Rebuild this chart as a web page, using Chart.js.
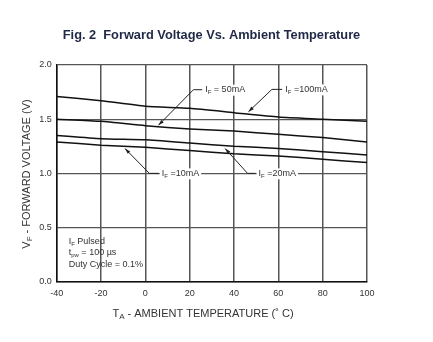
<!DOCTYPE html>
<html>
<head>
<meta charset="utf-8">
<script src="https://cdn.jsdelivr.net/npm/chart.js@4"></script>
<style>
  html, body { margin: 0; padding: 0; background: #fff; }
  #wrap { width: 433px; height: 342px; position: relative; }
</style>
</head>
<body>
<div id="wrap"><canvas id="vfChart" width="433" height="342"></canvas></div>
<script>
// temperatures (deg C) and forward voltage per drive current
const temps = [-40, -20, 0, 20, 40, 60, 80, 100];
const vf100 = [1.71, 1.67, 1.62, 1.60, 1.56, 1.52, 1.50, 1.48];
const vf50 = [1.50, 1.48, 1.44, 1.41, 1.39, 1.36, 1.33, 1.29];
const vf20 = [1.35, 1.32, 1.31, 1.28, 1.25, 1.23, 1.20, 1.17];
const vf10 = [1.29, 1.26, 1.24, 1.21, 1.18, 1.16, 1.13, 1.10];

const xTicks = [-40, -20, 0, 20, 40, 60, 80, 100];
const yTicks = [0.0, 0.5, 1.0, 1.5, 2.0];

// callouts: label text, label anchor, elbow, arrow tip (data coords)
const callTexts = ["= 50mA", "=100mA", "=10mA", "=20mA"];
const callLabel = [[27, 1.772], [63.1, 1.775], [7.4, 1.0], [51.1, 1.0]];
const callElbow = [[21.7, 1.772], [57.1, 1.775], [1.8, 1.0], [46.1, 1.0]];
const callTip = [[5.9, 1.444], [46.5, 1.568], [-9.2, 1.229], [36, 1.229]];

const noteLines = [["I", "F", " Pulsed"], ["t", "pw", " = 100 \u00b5s"], ["Duty Cycle = 0.1%", "", ""]];

const FONT = "'Liberation Sans', Arial, sans-serif";
const TXT = "#333";

// draw "main + subscript + rest", returns end x
function drawSub(ctx, parts, x, y, size) {
  const [a, sub, b] = parts;
  ctx.font = size + "px " + FONT;
  ctx.fillText(a, x, y);
  x += ctx.measureText(a).width;
  if (sub) {
    ctx.font = Math.round(size * 0.72) + "px " + FONT;
    ctx.fillText(sub, x, y + size * 0.28);
    x += ctx.measureText(sub).width;
  }
  ctx.font = size + "px " + FONT;
  ctx.fillText(b, x, y);
  return x + ctx.measureText(b).width;
}
function subWidth(ctx, parts, size) {
  ctx.font = size + "px " + FONT;
  let w = ctx.measureText(parts[0]).width + ctx.measureText(parts[2]).width;
  ctx.font = Math.round(size * 0.72) + "px " + FONT;
  return w + ctx.measureText(parts[1]).width;
}

const extras = {
  id: "extras",
  afterDatasetsDraw(chart) {
    const ctx = chart.ctx;
    const xs = chart.scales.x, ys = chart.scales.y;
    const ca = chart.chartArea;
    ctx.save();
    ctx.textBaseline = "middle";

    // callouts
    callTexts.forEach((t, i) => {
      const parts = ["I", "F", " " + t];
      const lx = xs.getPixelForValue(callLabel[i][0]);
      const ly = ys.getPixelForValue(callLabel[i][1]);
      const w = subWidth(ctx, parts, 9);
      ctx.fillStyle = "#fff";
      ctx.fillRect(lx - 2, ly - 5, w + 4, 11);
      ctx.fillStyle = TXT;
      ctx.textAlign = "left";
      drawSub(ctx, parts, lx, ly, 9);

      const ex = xs.getPixelForValue(callElbow[i][0]);
      const ey = ys.getPixelForValue(callElbow[i][1]);
      const tx = xs.getPixelForValue(callTip[i][0]);
      const ty = ys.getPixelForValue(callTip[i][1]);
      ctx.strokeStyle = "#222";
      ctx.lineWidth = 1;
      ctx.beginPath();
      ctx.moveTo(lx - 3, ly);
      ctx.lineTo(ex, ey);
      ctx.lineTo(tx, ty);
      ctx.stroke();
      const ang = Math.atan2(ty - ey, tx - ex);
      ctx.fillStyle = "#222";
      ctx.beginPath();
      ctx.moveTo(tx, ty);
      ctx.lineTo(tx - 6 * Math.cos(ang - 0.3), ty - 6 * Math.sin(ang - 0.3));
      ctx.lineTo(tx - 6 * Math.cos(ang + 0.3), ty - 6 * Math.sin(ang + 0.3));
      ctx.closePath();
      ctx.fill();
    });

    // conditions note
    ctx.fillStyle = TXT;
    ctx.textAlign = "left";
    noteLines.forEach((p, i) => drawSub(ctx, p, ca.left + 12, 241.5 + i * 11.3, 9));

    // title
    ctx.fillStyle = "#1f2844";
    ctx.textAlign = "center";
    ctx.font = "bold 12.8px " + FONT;
    ctx.fillText("Fig. 2  Forward Voltage Vs. Ambient Temperature", 211.5, 35);

    // x axis title
    ctx.fillStyle = TXT;
    ctx.textAlign = "left";
    const xp = ["T", "A", " - AMBIENT TEMPERATURE (\u02da C)"];
    const xw = subWidth(ctx, xp, 11);
    drawSub(ctx, xp, 203 - xw / 2, 314, 11);

    // y axis title (rotated)
    ctx.translate(27, 174);
    ctx.rotate(-Math.PI / 2);
    const yp = ["V", "F", " - FORWARD VOLTAGE (V)"];
    const yw = subWidth(ctx, yp, 11);
    drawSub(ctx, yp, -yw / 2, 0, 11);
    ctx.restore();
  }
};

const mk = (arr) => ({
  data: temps.map((t, i) => ({ x: t, y: arr[i] })),
  borderColor: "#111",
  borderWidth: 1.5,
  pointRadius: 0,
  tension: 0.2,
  fill: false
});

new Chart(document.getElementById("vfChart"), {
  type: "line",
  data: { datasets: [mk(vf100), mk(vf50), mk(vf20), mk(vf10)] },
  options: {
    responsive: false,
    animation: false,
    layout: { padding: { left: 0, top: 65, right: 66, bottom: 0 } },
    plugins: { legend: { display: false }, tooltip: { enabled: false } },
    scales: {
      x: {
        type: "linear",
        min: -40, max: 100,
        afterBuildTicks: (s) => { s.ticks = xTicks.map((v) => ({ value: v })); },
        afterFit: (s) => { s.height = 60.3; },
        grid: { color: "#555", lineWidth: 1.5, drawTicks: false },
        border: { color: "#111", width: 1.5 },
        ticks: { color: TXT, font: { family: FONT, size: 9 }, padding: 6, maxRotation: 0 }
      },
      y: {
        min: 0, max: 2,
        afterBuildTicks: (s) => { s.ticks = yTicks.map((v) => ({ value: v })); },
        afterFit: (s) => { s.width = 56.7; },
        grid: { color: "#555", lineWidth: 1.3, drawTicks: false },
        border: { color: "#111", width: 1.5 },
        ticks: { color: TXT, font: { family: FONT, size: 9 }, padding: 5, callback: (v) => v.toFixed(1) }
      }
    }
  },
  plugins: [extras]
});
</script>
</body>
</html>
